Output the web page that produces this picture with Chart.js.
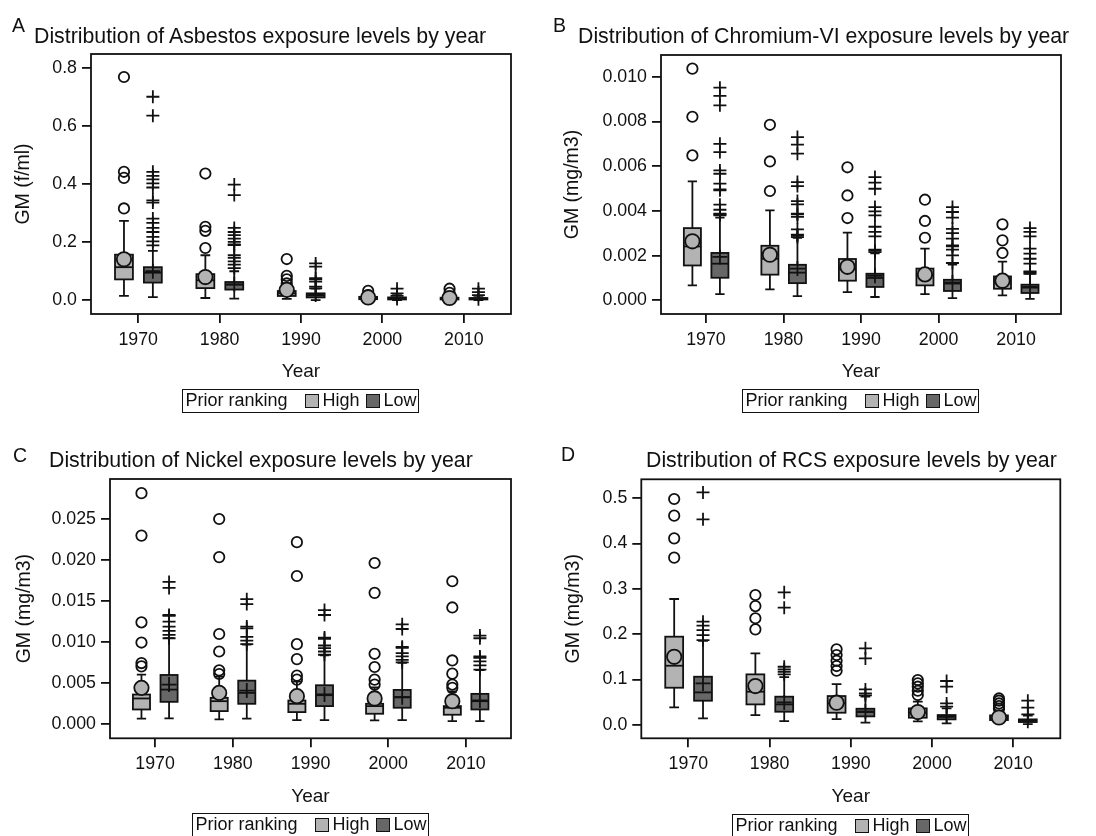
<!DOCTYPE html>
<html>
<head>
<meta charset="utf-8">
<title>Exposure levels by year</title>
<script src="https://cdn.jsdelivr.net/npm/chart.js@4.4.1/dist/chart.umd.min.js"></script>
<style>
  html, body { margin: 0; padding: 0; background: #fff; }
  #page { position: relative; width: 1096px; height: 836px; overflow: hidden;
          font-family: "Liberation Sans", Arial, sans-serif; color: #111; }
  .panel { position: absolute; }
  .panel canvas { display: block; }
  .letter { position: absolute; font-size: 19.5px; line-height: 1; }
  .title { position: absolute; font-size: 21.3px; line-height: 1; white-space: nowrap; }
  .legend { position: absolute; width: 237px; height: 24px; border: 1.6px solid #111;
            box-sizing: border-box; font-size: 18px; }
  .legend span { position: absolute; top: 0; line-height: 21px; white-space: nowrap; }
  .legend i { position: absolute; top: 3.5px; width: 14.5px; height: 14.5px;
              border: 1.6px solid #111; box-sizing: border-box; }
</style>
</head>
<body>
<div id="page">
  <div class="panel" style="left:0;top:0"><canvas id="chartA" width="548" height="420"></canvas></div>
  <div class="panel" style="left:548px;top:0"><canvas id="chartB" width="548" height="420"></canvas></div>
  <div class="panel" style="left:0;top:420px"><canvas id="chartC" width="548" height="416"></canvas></div>
  <div class="panel" style="left:548px;top:420px"><canvas id="chartD" width="548" height="416"></canvas></div>

  <div class="letter" style="left:12px;top:15.5px">A</div>
  <div class="letter" style="left:553px;top:15.5px">B</div>
  <div class="letter" style="left:13px;top:445.5px">C</div>
  <div class="letter" style="left:561px;top:444.5px">D</div>

  <div class="title" style="left:34px;top:26px">Distribution of Asbestos exposure levels by year</div>
  <div class="title" style="left:578px;top:25.5px">Distribution of Chromium-VI exposure levels by year</div>
  <div class="title" style="left:49px;top:450px">Distribution of Nickel exposure levels by year</div>
  <div class="title" style="left:646px;top:450px">Distribution of RCS exposure levels by year</div>

  <div class="legend" style="left:182px;top:389px"></div>
  <div class="legend" style="left:742px;top:389px"></div>
  <div class="legend" style="left:192px;top:813px"></div>
  <div class="legend" style="left:732px;top:814px"></div>
</div>

<script>
// ---- data ----
const years = [1970, 1980, 1990, 2000, 2010];
const legendTitle = 'Prior ranking';
const groupNames = ['High', 'Low'];

// each box: [lower whisker, Q1, median, Q3, upper whisker]

// A: Asbestos
const asbestosTicks = ['0.0', '0.2', '0.4', '0.6', '0.8'];
const asbestosHighBox = [
  [0.015, 0.072, 0.114, 0.157, 0.273],
  [0.008, 0.042, 0.069, 0.090, 0.155],
  [0.005, 0.015, 0.024, 0.032, 0.050],
  [0.001, 0.004, 0.007, 0.012, 0.022],
  [0.001, 0.003, 0.006, 0.009, 0.018]
];
const asbestosHighMean = [0.141, 0.080, 0.036, 0.010, 0.008];
const asbestosHighOut = [
  [0.768, 0.442, 0.421, 0.316],
  [0.436, 0.253, 0.239, 0.180],
  [0.142, 0.084, 0.072, 0.058],
  [0.033, 0.018],
  [0.040, 0.026]
];
const asbestosLowBox = [
  [0.011, 0.061, 0.095, 0.114, 0.170],
  [0.006, 0.037, 0.054, 0.063, 0.100],
  [0.001, 0.010, 0.017, 0.024, 0.040],
  [0.001, 0.003, 0.006, 0.010, 0.018],
  [0.001, 0.003, 0.005, 0.008, 0.015]
];
const asbestosLowMean = [0.100, 0.055, 0.020, 0.008, 0.007];
const asbestosLowOut = [
  [0.700, 0.635, 0.442, 0.428, 0.416, 0.402, 0.388, 0.344, 0.336, 0.281, 0.266, 0.249, 0.235, 0.218, 0.203, 0.189],
  [0.398, 0.362, 0.249, 0.235, 0.224, 0.212, 0.201, 0.192, 0.190, 0.155, 0.146, 0.134, 0.123, 0.111],
  [0.127, 0.116, 0.076, 0.072, 0.064, 0.047, 0.041],
  [0.040, 0.024, 0.015],
  [0.040, 0.028, 0.018]
];

// B: Chromium-VI
const chromiumTicks = ['0.000', '0.002', '0.004', '0.006', '0.008', '0.010'];
const chromiumHighBox = [
  [0.00067, 0.00156, 0.00241, 0.00323, 0.00532],
  [0.00049, 0.00115, 0.00186, 0.00244, 0.00402],
  [0.00037, 0.00088, 0.00142, 0.00185, 0.00303],
  [0.00028, 0.00067, 0.00112, 0.00142, 0.00231],
  [0.00022, 0.00052, 0.00085, 0.00107, 0.00173]
];
const chromiumHighMean = [0.00264, 0.00204, 0.00150, 0.00116, 0.00088];
const chromiumHighOut = [
  [0.01036, 0.00821, 0.00648],
  [0.00785, 0.00621, 0.00489],
  [0.00595, 0.00469, 0.00368],
  [0.00450, 0.00355, 0.00280],
  [0.00340, 0.00268, 0.00212]
];
const chromiumLowBox = [
  [0.00028, 0.00101, 0.00164, 0.00212, 0.00370],
  [0.00019, 0.00077, 0.00124, 0.00159, 0.00280],
  [0.00015, 0.00060, 0.00100, 0.00119, 0.00210],
  [0.00010, 0.00042, 0.00075, 0.00092, 0.00160],
  [0.00007, 0.00033, 0.00057, 0.00070, 0.00120]
];
const chromiumLowMean = [0.00194, 0.00142, 0.00110, 0.00080, 0.00060];
const chromiumLowOut = [
  [0.00951, 0.00914, 0.00872, 0.00700, 0.00663, 0.00581, 0.00566, 0.00522, 0.00496, 0.00492, 0.00428, 0.00405, 0.00388, 0.00384, 0.00380],
  [0.00730, 0.00696, 0.00656, 0.00529, 0.00511, 0.00444, 0.00429, 0.00388, 0.00384, 0.00373, 0.00317, 0.00294, 0.00290, 0.00283],
  [0.00551, 0.00526, 0.00499, 0.00417, 0.00398, 0.00380, 0.00329, 0.00306, 0.00286, 0.00227, 0.00222, 0.00216],
  [0.00417, 0.00395, 0.00370, 0.00320, 0.00301, 0.00276, 0.00246, 0.00242, 0.00227, 0.00201, 0.00167],
  [0.00323, 0.00306, 0.00286, 0.00231, 0.00209, 0.00186, 0.00164, 0.00130, 0.00125, 0.00119]
];

// C: Nickel
const nickelTicks = ['0.000', '0.005', '0.010', '0.015', '0.020', '0.025'];
const nickelHighBox = [
  [0.00069, 0.00181, 0.00315, 0.00363, 0.00605],
  [0.00060, 0.00161, 0.00282, 0.00323, 0.00580],
  [0.00052, 0.00149, 0.00250, 0.00290, 0.00520],
  [0.00048, 0.00129, 0.00222, 0.00250, 0.00450],
  [0.00040, 0.00117, 0.00202, 0.00222, 0.00400]
];
const nickelHighMean = [0.00444, 0.00383, 0.00343, 0.00315, 0.00282];
const nickelHighOut = [
  [0.02815, 0.02298, 0.01242, 0.00996, 0.00746, 0.00706],
  [0.02500, 0.02036, 0.01100, 0.00887, 0.00657, 0.00613],
  [0.02218, 0.01806, 0.00976, 0.00794, 0.00593, 0.00544],
  [0.01964, 0.01601, 0.00859, 0.00698, 0.00544, 0.00484],
  [0.01742, 0.01423, 0.00778, 0.00617, 0.00484, 0.00444]
];
const nickelLowBox = [
  [0.00073, 0.00274, 0.00423, 0.00601, 0.01050],
  [0.00069, 0.00250, 0.00383, 0.00532, 0.00970],
  [0.00052, 0.00222, 0.00355, 0.00476, 0.00840],
  [0.00052, 0.00202, 0.00331, 0.00419, 0.00750],
  [0.00040, 0.00181, 0.00282, 0.00371, 0.00660]
];
const nickelLowMean = [0.00484, 0.00411, 0.00363, 0.00330, 0.00290];
const nickelLowOut = [
  [0.01734, 0.01661, 0.01331, 0.01320, 0.01250, 0.01190, 0.01137, 0.01089, 0.01048],
  [0.01524, 0.01464, 0.01190, 0.01169, 0.01065, 0.01020, 0.00976],
  [0.01391, 0.01331, 0.01056, 0.01040, 0.00960, 0.00927, 0.00887, 0.00847],
  [0.01218, 0.01161, 0.00944, 0.00930, 0.00867, 0.00827, 0.00786, 0.00754],
  [0.01081, 0.01048, 0.00827, 0.00810, 0.00766, 0.00718, 0.00665]
];

// D: RCS
const rcsTicks = ['0.0', '0.1', '0.2', '0.3', '0.4', '0.5'];
const rcsHighBox = [
  [0.0383, 0.0817, 0.1303, 0.1944, 0.2776],
  [0.0214, 0.0449, 0.0729, 0.1112, 0.1576],
  [0.0125, 0.0265, 0.0470, 0.0633, 0.0898],
  [0.0074, 0.0155, 0.0265, 0.0361, 0.0510],
  [0.0050, 0.0103, 0.0155, 0.0206, 0.0300]
];
const rcsHighMean = [0.150, 0.0854, 0.0486, 0.028, 0.016];
const rcsHighOut = [
  [0.4985, 0.4617, 0.4116, 0.3690],
  [0.2864, 0.2620, 0.2350, 0.2106],
  [0.1664, 0.1539, 0.1414, 0.1296, 0.1193],
  [0.0987, 0.0913, 0.0840, 0.0751, 0.0655],
  [0.0580, 0.0530, 0.0470, 0.0410, 0.0350]
];
const rcsLowBox = [
  [0.0140, 0.0530, 0.0714, 0.1060, 0.1850],
  [0.0081, 0.0287, 0.0449, 0.0619, 0.1050],
  [0.0044, 0.0184, 0.0280, 0.0353, 0.0620],
  [0.0030, 0.0118, 0.0177, 0.0214, 0.0360],
  [0.0015, 0.0059, 0.0088, 0.0118, 0.0200]
];
const rcsLowMean = [0.0913, 0.0493, 0.0295, 0.018, 0.009];
const rcsLowOut = [
  [0.5130, 0.4536, 0.2275, 0.2187, 0.2091, 0.1980, 0.1870],
  [0.2923, 0.2585, 0.1280, 0.1222, 0.1170, 0.1112],
  [0.1686, 0.1465, 0.0780, 0.0690, 0.0648],
  [0.0965, 0.0840, 0.0471, 0.0398],
  [0.0530, 0.0376, 0.0228]
];

// ---- styling ----
const INK = '#111';
const HIGH_FILL = '#b3b3b3';
const LOW_FILL = '#676767';
const LINE_W = 1.8;
const HIGH_SHIFT = -1.75;   // years left of the tick
const LOW_SHIFT = 1.8;
const BOX_HALF = 1.1;
const CAP_HALF = 0.6;
const X_MIN = 1964.2, X_MAX = 2015.8;

Chart.defaults.font.family = '"Liberation Sans", Arial, sans-serif';
Chart.defaults.color = INK;

// draws boxes + whiskers under the points, and the frame round the plot
function boxLayer(groups) {
  return {
    id: 'boxLayer',
    beforeDatasetsDraw(chart) {
      const {ctx, scales: {x, y}} = chart;
      ctx.save();
      ctx.lineWidth = LINE_W;
      ctx.strokeStyle = INK;
      groups.forEach(g => {
        g.stats.forEach((s, i) => {
          const cx = years[i] + g.shift;
          const xl = x.getPixelForValue(cx - BOX_HALF);
          const xr = x.getPixelForValue(cx + BOX_HALF);
          const xc = x.getPixelForValue(cx);
          const cl = x.getPixelForValue(cx - CAP_HALF);
          const cr = x.getPixelForValue(cx + CAP_HALF);
          const [lo, q1, med, q3, hi] = s.map(v => y.getPixelForValue(v));
          ctx.beginPath();
          ctx.moveTo(xc, q3); ctx.lineTo(xc, hi);
          ctx.moveTo(cl, hi); ctx.lineTo(cr, hi);
          ctx.moveTo(xc, q1); ctx.lineTo(xc, lo);
          ctx.moveTo(cl, lo); ctx.lineTo(cr, lo);
          ctx.stroke();
          ctx.fillStyle = g.fill;
          ctx.fillRect(xl, q3, xr - xl, q1 - q3);
          ctx.strokeRect(xl, q3, xr - xl, q1 - q3);
          ctx.beginPath();
          ctx.moveTo(xl, med); ctx.lineTo(xr, med);
          ctx.stroke();
        });
      });
      ctx.restore();
    },
    afterDraw(chart) {
      const {ctx, chartArea: a} = chart;
      ctx.save();
      ctx.lineWidth = LINE_W;
      ctx.strokeStyle = INK;
      ctx.strokeRect(a.left, a.top, a.right - a.left, a.bottom - a.top);
      ctx.restore();
    }
  };
}

function points(lists, shift) {
  const out = [];
  lists.forEach((vals, i) => vals.forEach(v => out.push({x: years[i] + shift, y: v})));
  return out;
}

function means(vals, shift) {
  return vals.map((v, i) => ({x: years[i] + shift, y: v}));
}

function makePanel(id, p) {
  return new Chart(document.getElementById(id), {
    type: 'scatter',
    data: {
      datasets: [
        {data: means(p.highMean, HIGH_SHIFT), pointStyle: 'circle', pointRadius: 7.2,
         pointBorderWidth: LINE_W, pointBorderColor: INK, pointBackgroundColor: HIGH_FILL},
        {data: means(p.lowMean, LOW_SHIFT), pointStyle: 'cross', pointRadius: 7.5,
         pointBorderWidth: LINE_W, pointBorderColor: INK},
        {data: points(p.highOut, HIGH_SHIFT), pointStyle: 'circle', pointRadius: 5.2,
         pointBorderWidth: LINE_W, pointBorderColor: INK, pointBackgroundColor: 'rgba(0,0,0,0)'},
        {data: points(p.lowOut, LOW_SHIFT), pointStyle: 'cross', pointRadius: 6.5,
         pointBorderWidth: LINE_W, pointBorderColor: INK}
      ]
    },
    options: {
      responsive: false,
      animation: false,
      events: [],
      layout: {padding: {left: 0, top: p.top, right: p.right, bottom: 0}},
      plugins: {legend: {display: false}, tooltip: {enabled: false}, title: {display: false}},
      scales: {
        x: {
          type: 'linear', position: 'bottom', min: X_MIN, max: X_MAX,
          afterBuildTicks: s => { s.ticks = years.map(v => ({value: v})); },
          afterFit: s => { s.height = p.xh; },
          ticks: {callback: v => String(v), font: {size: 17.8}, padding: 6, maxRotation: 0, autoSkip: false},
          grid: {drawOnChartArea: false, drawTicks: true, tickLength: 9, color: INK, lineWidth: LINE_W},
          border: {display: false},
          title: {display: true, text: 'Year', font: {size: 19}, padding: {top: 0, bottom: p.yearPad}}
        },
        y: {
          type: 'linear', min: p.yMin, max: p.yMax,
          afterBuildTicks: s => { s.ticks = p.ticks.map(t => ({value: parseFloat(t)})); },
          afterFit: s => { s.width = p.yw; },
          ticks: {callback: (v, i) => p.ticks[i], font: {size: 17.8}, padding: 5, autoSkip: false},
          grid: {drawOnChartArea: false, drawTicks: true, tickLength: 9, color: INK, lineWidth: LINE_W},
          border: {display: false},
          title: {display: true, text: p.unit, font: {size: 19.5}, padding: {top: p.unitPad, bottom: 0}}
        }
      }
    },
    plugins: [boxLayer([
      {stats: p.highBox, shift: HIGH_SHIFT, fill: HIGH_FILL},
      {stats: p.lowBox, shift: LOW_SHIFT, fill: LOW_FILL}
    ])]
  });
}

makePanel('chartA', {
  ticks: asbestosTicks, unit: 'GM (f/ml)', yMin: -0.047, yMax: 0.847,
  highBox: asbestosHighBox, highMean: asbestosHighMean, highOut: asbestosHighOut,
  lowBox: asbestosLowBox, lowMean: asbestosLowMean, lowOut: asbestosLowOut,
  top: 54, right: 37, yw: 91, xh: 106, yearPad: 37, unitPad: 11.8
});
makePanel('chartB', {
  ticks: chromiumTicks, unit: 'GM (mg/m3)', yMin: -0.00061, yMax: 0.01097,
  highBox: chromiumHighBox, highMean: chromiumHighMean, highOut: chromiumHighOut,
  lowBox: chromiumLowBox, lowMean: chromiumLowMean, lowOut: chromiumLowOut,
  top: 55, right: 35, yw: 113, xh: 106, yearPad: 37, unitPad: 13.3
});
makePanel('chartC', {
  ticks: nickelTicks, unit: 'GM (mg/m3)', yMin: -0.0017, yMax: 0.02987,
  highBox: nickelHighBox, highMean: nickelHighMean, highOut: nickelHighOut,
  lowBox: nickelLowBox, lowMean: nickelLowMean, lowOut: nickelLowOut,
  top: 59, right: 37, yw: 110, xh: 97.7, yearPad: 28, unitPad: 13.3
});
makePanel('chartD', {
  ticks: rcsTicks, unit: 'GM (mg/m3)', yMin: -0.030, yMax: 0.542,
  highBox: rcsHighBox, highMean: rcsHighMean, highOut: rcsHighOut,
  lowBox: rcsLowBox, lowMean: rcsLowMean, lowOut: rcsLowOut,
  top: 59.3, right: 35.7, yw: 93.3, xh: 97.7, yearPad: 28, unitPad: 13.8
});

// legends (same inner layout in all four panels)
document.querySelectorAll('.legend').forEach(box => {
  box.innerHTML =
    '<span style="left:2.5px">' + legendTitle + '</span>' +
    '<i style="left:121.5px;background:' + HIGH_FILL + '"></i>' +
    '<span style="left:139.5px">' + groupNames[0] + '</span>' +
    '<i style="left:182.5px;background:' + LOW_FILL + '"></i>' +
    '<span style="left:200.5px">' + groupNames[1] + '</span>';
});
</script>
</body>
</html>
